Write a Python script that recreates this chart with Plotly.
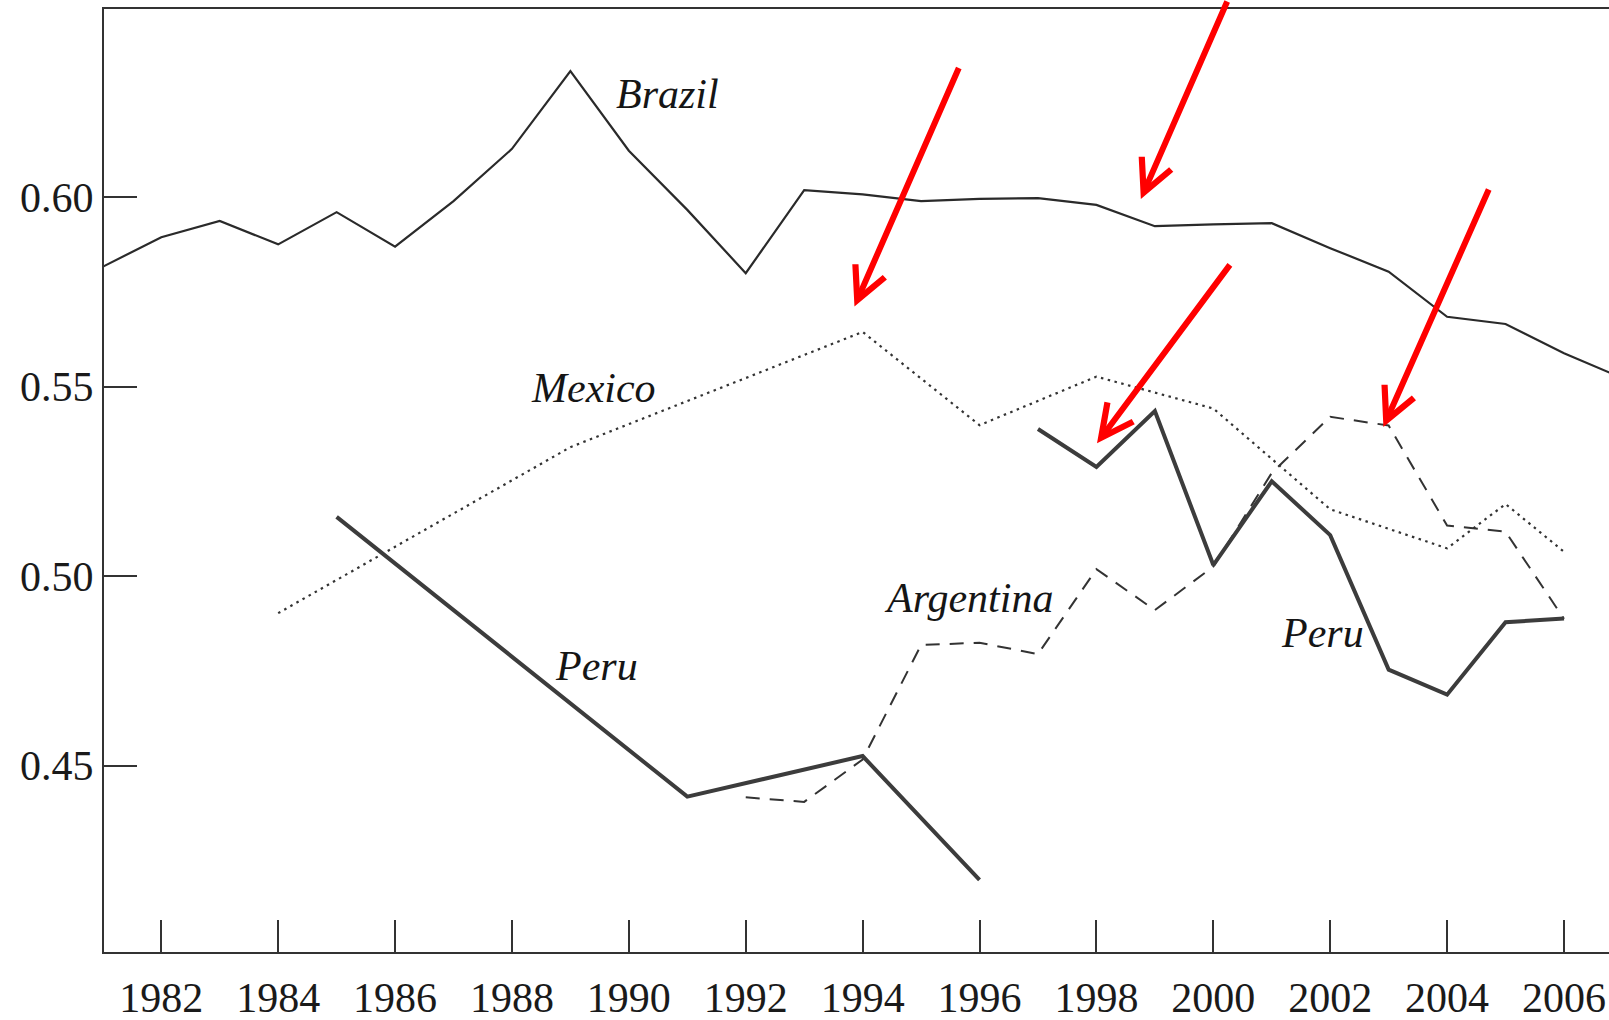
import plotly.graph_objects as go

# ---------------- data ----------------
years_brazil = list(range(1981, 2008))
brazil = [0.5816, 0.5894, 0.5937, 0.5875, 0.5960, 0.5869, 0.5989, 0.6127, 0.6332,
          0.6122, 0.5966, 0.5799, 0.6018, 0.6007, 0.5989, 0.5995, 0.5997, 0.5979,
          0.5923, 0.5928, 0.5931, 0.5865, 0.5803, 0.5684, 0.5665, 0.5588, 0.5522]

years_mexico = [1984, 1989, 1994, 1996, 1998, 2000, 2002, 2004, 2005, 2006]
mexico = [0.4902, 0.5340, 0.5644, 0.5398, 0.5526, 0.5442, 0.5176, 0.5073, 0.5190, 0.5064]

years_argentina = list(range(1992, 2007))
argentina = [0.4416, 0.4404, 0.4516, 0.4818, 0.4824, 0.4794, 0.5018, 0.4910,
             0.5025, 0.5272, 0.5420, 0.5397, 0.5133, 0.5117, 0.4887]

years_peru_early = [1985, 1991, 1994, 1996]
peru_early = [0.5156, 0.4418, 0.4525, 0.4198]
years_peru_late = list(range(1997, 2007))
peru_late = [0.5388, 0.5288, 0.5435, 0.5029, 0.5250, 0.5108, 0.4753, 0.4687, 0.4878, 0.4888]

x_ticks = list(range(1982, 2007, 2))
y_ticks = [0.45, 0.50, 0.55, 0.60]
y_ticktext = ["0.45", "0.50", "0.55", "0.60"]

label_text = ["Brazil", "Mexico", "Peru", "Argentina", "Peru"]
label_x = [1990.66, 1989.39, 1989.44, 1995.81, 2001.86]
label_y = [0.6272, 0.5496, 0.4763, 0.4942, 0.4850]

# red arrows: tip in data coords, tail offset in pixels
arrow_x = [1993.86, 1998.76, 1998.01, 2002.91]
arrow_y = [0.5711, 0.5995, 0.5350, 0.5393]
arrow_ax = [105, 87, 134, 106]
arrow_ay = [-240, -199, -180, -239]

SERIF = "Liberation Serif, DejaVu Serif, serif"
INK = "#333333"

fig = go.Figure()
fig.add_trace(go.Scatter(x=years_mexico, y=mexico, mode="lines",
                         line=dict(color="#333333", width=2.2, dash="2.5px,4.5px")))
fig.add_trace(go.Scatter(x=years_argentina, y=argentina, mode="lines",
                         line=dict(color="#333333", width=2, dash="14px,10px")))
fig.add_trace(go.Scatter(x=years_brazil, y=brazil, mode="lines",
                         line=dict(color="#2a2a2a", width=2.2)))
fig.add_trace(go.Scatter(x=years_peru_early, y=peru_early, mode="lines",
                         line=dict(color="#3c3c3c", width=4)))
fig.add_trace(go.Scatter(x=years_peru_late, y=peru_late, mode="lines",
                         line=dict(color="#3c3c3c", width=4)))

annotations = []
for t, x, y in zip(label_text, label_x, label_y):
    annotations.append(dict(x=x, y=y, xref="x", yref="y", text=t, showarrow=False,
                            font=dict(family=SERIF, size=42, color="#151515", style="italic")))
for x, y, ax, ay in zip(arrow_x, arrow_y, arrow_ax, arrow_ay):
    annotations.append(dict(x=x, y=y, xref="x", yref="y", text="", showarrow=True,
                            ax=ax, ay=ay, axref="pixel", ayref="pixel",
                            arrowhead=5, arrowsize=1.05, arrowwidth=6,
                            arrowcolor="#ff0000", standoff=0))

fig.update_layout(
    width=1609, height=1020,
    margin=dict(l=104, r=0, t=9, b=68),
    plot_bgcolor="white", paper_bgcolor="white",
    showlegend=False,
    annotations=annotations,
    xaxis=dict(range=[1981.02, 2006.77], tickvals=x_ticks, ticks="inside", ticklen=32,
               tickwidth=1.5, tickcolor=INK, showline=True, linecolor=INK, linewidth=2,
               mirror=True, showgrid=False, zeroline=False, ticklabelstandoff=8,
               tickfont=dict(family=SERIF, size=42, color="#1a1a1a")),
    yaxis=dict(range=[0.4008, 0.6496], tickvals=y_ticks, ticktext=y_ticktext, ticks="inside",
               ticklen=33, tickwidth=1.5, tickcolor=INK, showline=True, linecolor=INK,
               linewidth=2, showgrid=False, zeroline=False,
               tickfont=dict(family=SERIF, size=42, color="#1a1a1a")),
)

# remove the default 8px page margin so the figure fills the window exactly
fig.write_html("out.html",
               config={"displayModeBar": False},
               post_script="document.body.style.margin='0';"
                           "document.body.style.overflow='hidden';")
